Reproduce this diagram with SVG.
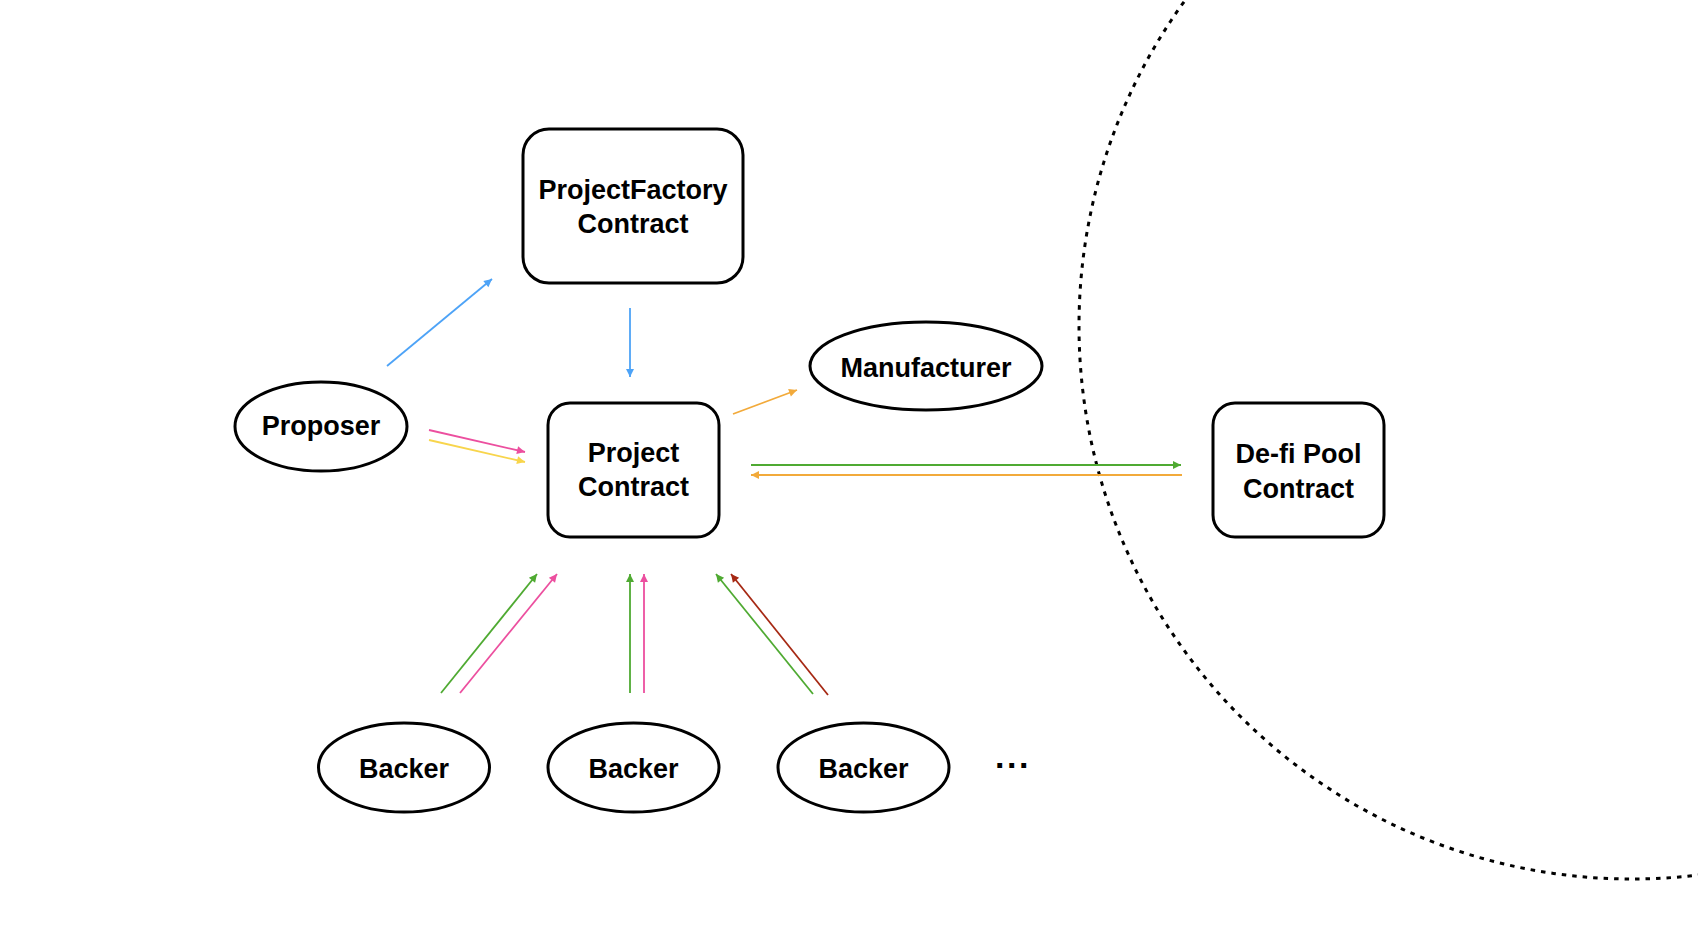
<svg xmlns="http://www.w3.org/2000/svg" width="1698" height="950" viewBox="0 0 1698 950">
<style>
.node{fill:#fff;stroke:#000;stroke-width:3}
.lbl{font-family:"Liberation Sans",Arial,Helvetica,sans-serif;font-weight:bold;font-size:27px;fill:#000;text-anchor:middle}
.c{fill:none;stroke-width:1.8}
.blue{stroke:#4DA3F7}
.pink{stroke:#EC4F9F}
.yellow{stroke:#F8D54C}
.green{stroke:#4FAA32}
.orange{stroke:#F2AA3B}
.red{stroke:#A62914}
</style>
<defs>
<marker id="mBlue" markerUnits="userSpaceOnUse" markerWidth="10" markerHeight="10" viewBox="0 0 10 10" refX="9" refY="5" orient="auto"><path d="M1,1 L9,5 L1,9 Z" fill="#4DA3F7"/></marker>
<marker id="mPink" markerUnits="userSpaceOnUse" markerWidth="10" markerHeight="10" viewBox="0 0 10 10" refX="9" refY="5" orient="auto"><path d="M1,1 L9,5 L1,9 Z" fill="#EC4F9F"/></marker>
<marker id="mYellow" markerUnits="userSpaceOnUse" markerWidth="10" markerHeight="10" viewBox="0 0 10 10" refX="9" refY="5" orient="auto"><path d="M1,1 L9,5 L1,9 Z" fill="#F8D54C"/></marker>
<marker id="mGreen" markerUnits="userSpaceOnUse" markerWidth="10" markerHeight="10" viewBox="0 0 10 10" refX="9" refY="5" orient="auto"><path d="M1,1 L9,5 L1,9 Z" fill="#4FAA32"/></marker>
<marker id="mOrange" markerUnits="userSpaceOnUse" markerWidth="10" markerHeight="10" viewBox="0 0 10 10" refX="9" refY="5" orient="auto"><path d="M1,1 L9,5 L1,9 Z" fill="#F2AA3B"/></marker>
<marker id="mRed" markerUnits="userSpaceOnUse" markerWidth="10" markerHeight="10" viewBox="0 0 10 10" refX="9" refY="5" orient="auto"><path d="M1,1 L9,5 L1,9 Z" fill="#A62914"/></marker>
</defs>
<rect width="1698" height="950" fill="#fff"/>
<circle id="boundary" cx="1632" cy="326" r="553" fill="none" stroke="#000" stroke-width="3" stroke-dasharray="4.5 6"/>
<g id="connectors">
<line class="c blue" x1="387" y1="366" x2="492" y2="279" marker-end="url(#mBlue)"/>
<line class="c blue" x1="630" y1="308" x2="630" y2="377" marker-end="url(#mBlue)"/>
<line class="c pink" x1="429" y1="430" x2="525" y2="452" marker-end="url(#mPink)"/>
<line class="c yellow" x1="429" y1="440" x2="525" y2="462" marker-end="url(#mYellow)"/>
<line class="c orange" x1="733" y1="414" x2="797" y2="390" marker-end="url(#mOrange)"/>
<line class="c green" x1="751" y1="465" x2="1181" y2="465" marker-end="url(#mGreen)"/>
<line class="c orange" x1="1182" y1="475" x2="751" y2="475" marker-end="url(#mOrange)"/>
<line class="c green" x1="441" y1="693" x2="537" y2="574" marker-end="url(#mGreen)"/>
<line class="c pink" x1="460" y1="693" x2="557" y2="574" marker-end="url(#mPink)"/>
<line class="c green" x1="630" y1="693" x2="630" y2="574" marker-end="url(#mGreen)"/>
<line class="c pink" x1="644" y1="693" x2="644" y2="574" marker-end="url(#mPink)"/>
<line class="c green" x1="813" y1="694" x2="716" y2="574" marker-end="url(#mGreen)"/>
<line class="c red" x1="828" y1="695" x2="731" y2="574" marker-end="url(#mRed)"/>
</g>
<g id="projectFactory">
<rect class="node" x="523" y="129" width="220" height="154" rx="26"/>
<text class="lbl" x="633" y="199">ProjectFactory</text>
<text class="lbl" x="633" y="233">Contract</text>
</g>
<g id="proposer">
<ellipse class="node" cx="321" cy="426.5" rx="86" ry="44.5"/>
<text class="lbl" x="321" y="435">Proposer</text>
</g>
<g id="projectContract">
<rect class="node" x="548" y="403" width="171" height="134" rx="22"/>
<text class="lbl" x="633.5" y="462">Project</text>
<text class="lbl" x="633.5" y="496">Contract</text>
</g>
<g id="manufacturer">
<ellipse class="node" cx="926" cy="366" rx="116" ry="44"/>
<text class="lbl" x="926" y="377">Manufacturer</text>
</g>
<g id="defiPool">
<rect class="node" x="1213" y="403" width="171" height="134" rx="22"/>
<text class="lbl" x="1298.5" y="463">De-fi Pool</text>
<text class="lbl" x="1298.5" y="498">Contract</text>
</g>
<g id="backer1">
<ellipse class="node" cx="404" cy="767.5" rx="85.5" ry="44.5"/>
<text class="lbl" x="404" y="778">Backer</text>
</g>
<g id="backer2">
<ellipse class="node" cx="633.5" cy="767.5" rx="85.5" ry="44.5"/>
<text class="lbl" x="633.5" y="778">Backer</text>
</g>
<g id="backer3">
<ellipse class="node" cx="863.5" cy="767.5" rx="85.5" ry="44.5"/>
<text class="lbl" x="863.5" y="778">Backer</text>
</g>
<g id="more">
<text x="995" y="768" font-family="Liberation Sans, Arial, sans-serif" font-weight="bold" font-size="34" letter-spacing="2.5">...</text>
</g>
</svg>
